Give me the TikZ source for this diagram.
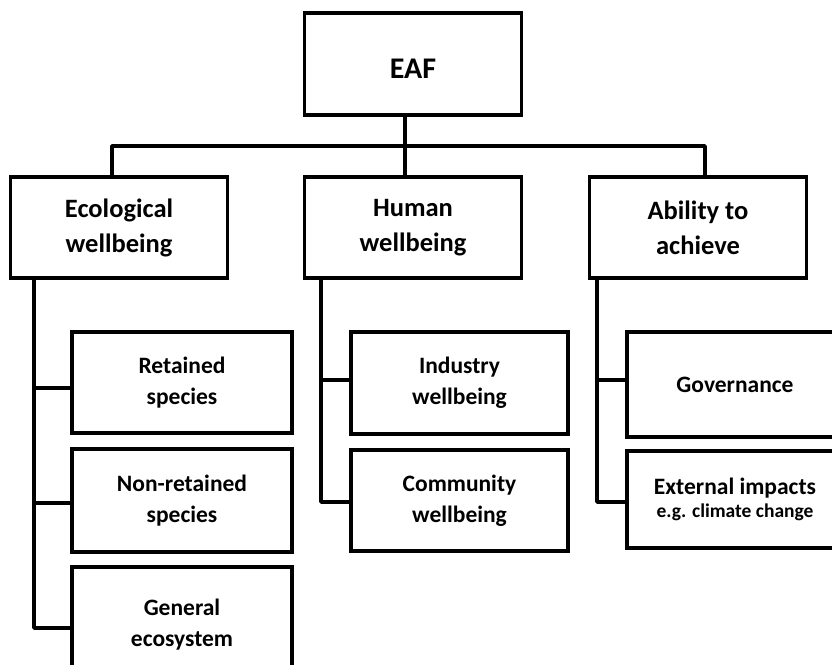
\documentclass[tikz,border=0pt]{standalone}
\usepackage{fontspec}
\setmainfont{Carlito}
\begin{document}
\begin{tikzpicture}[x=1pt,y=-1pt,
  box/.style={draw=black, line width=3.6pt, inner sep=0pt, align=center, minimum width=217pt, minimum height=102pt, font=\bfseries},
  topfont/.style={font=\bfseries\fontsize{30}{36}\selectfont},
  midfont/.style={font=\bfseries\fontsize{26.5}{35}\selectfont},
  lowfont/.style={font=\bfseries\fontsize{23.5}{31}\selectfont},
  conn/.style={draw=black, line width=3.6pt, line join=round}]
\useasboundingbox (0,0) rectangle (832,664);
\clip (0,0) rectangle (832,664);
% top
\node[box, minimum height=102pt] (eaf) at (413,64) {};
\node[topfont, inner sep=0pt] (eaft) at (413,69) {EAF};
% level 2
\node[box, midfont, minimum height=101pt] (eco) at (119,227.5) {Ecological\\wellbeing};
\node[box, midfont, minimum height=101pt] (hum) at (413,227.5) {Human\\wellbeing};
\node[box, midfont, minimum height=101pt] (abl) at (698,227.5) {Ability to\\achieve};
% level 3 ecological
\node[box, lowfont, minimum width=220pt, minimum height=101pt] (ret) at (182,382.5) {Retained\\species};
\node[box, lowfont, minimum width=220pt, minimum height=103pt] (non) at (182,500.5) {Non-retained\\species};
\node[box, lowfont, minimum width=220pt, minimum height=116pt] (gen) at (182,625) {General\\ecosystem};
% level 3 human
\node[box, lowfont, minimum height=102pt] (ind) at (459.5,383) {Industry\\wellbeing};
\node[box, lowfont, minimum height=101pt] (com) at (459.5,500.5) {Community\\wellbeing};
% level 3 ability
\node[box, lowfont, minimum width=216pt, minimum height=105pt] (gov) at (735,384.5) {Governance};
\node[box, minimum width=216pt, minimum height=97pt] (ext) at (735,499.5)
  {{\fontsize{23.5}{26}\selectfont External impacts}\\[4pt]{\fontsize{19.5}{22}\selectfont e.g. climate change}};
% bus coordinates
\coordinate (busL) at (112,146);
\coordinate (busM) at (405,146);
\coordinate (busR) at (705,146);
\coordinate (tE) at (34,0);
\coordinate (tH) at (321,0);
\coordinate (tA) at (597,0);
% top connectors
\draw[conn] (eaf.south -| busM) -- (hum.north -| busM);
\draw[conn] (eco.north -| busL) -- (busL) -- (busR) -- (abl.north -| busR);
% ecological trunk
\draw[conn] (eco.south -| tE) -- (tE |- 0,628) -- (gen.west |- 0,628);
\draw[conn] (tE |- 0,388) -- (ret.west |- 0,388);
\draw[conn] (tE |- 0,503) -- (non.west |- 0,503);
% human trunk
\draw[conn] (hum.south -| tH) -- (tH |- 0,502) -- (com.west |- 0,502);
\draw[conn] (tH |- 0,380) -- (ind.west |- 0,380);
% ability trunk
\draw[conn] (abl.south -| tA) -- (tA |- 0,502) -- (ext.west |- 0,502);
\draw[conn] (tA |- 0,380) -- (gov.west |- 0,380);
\end{tikzpicture}
\end{document}
